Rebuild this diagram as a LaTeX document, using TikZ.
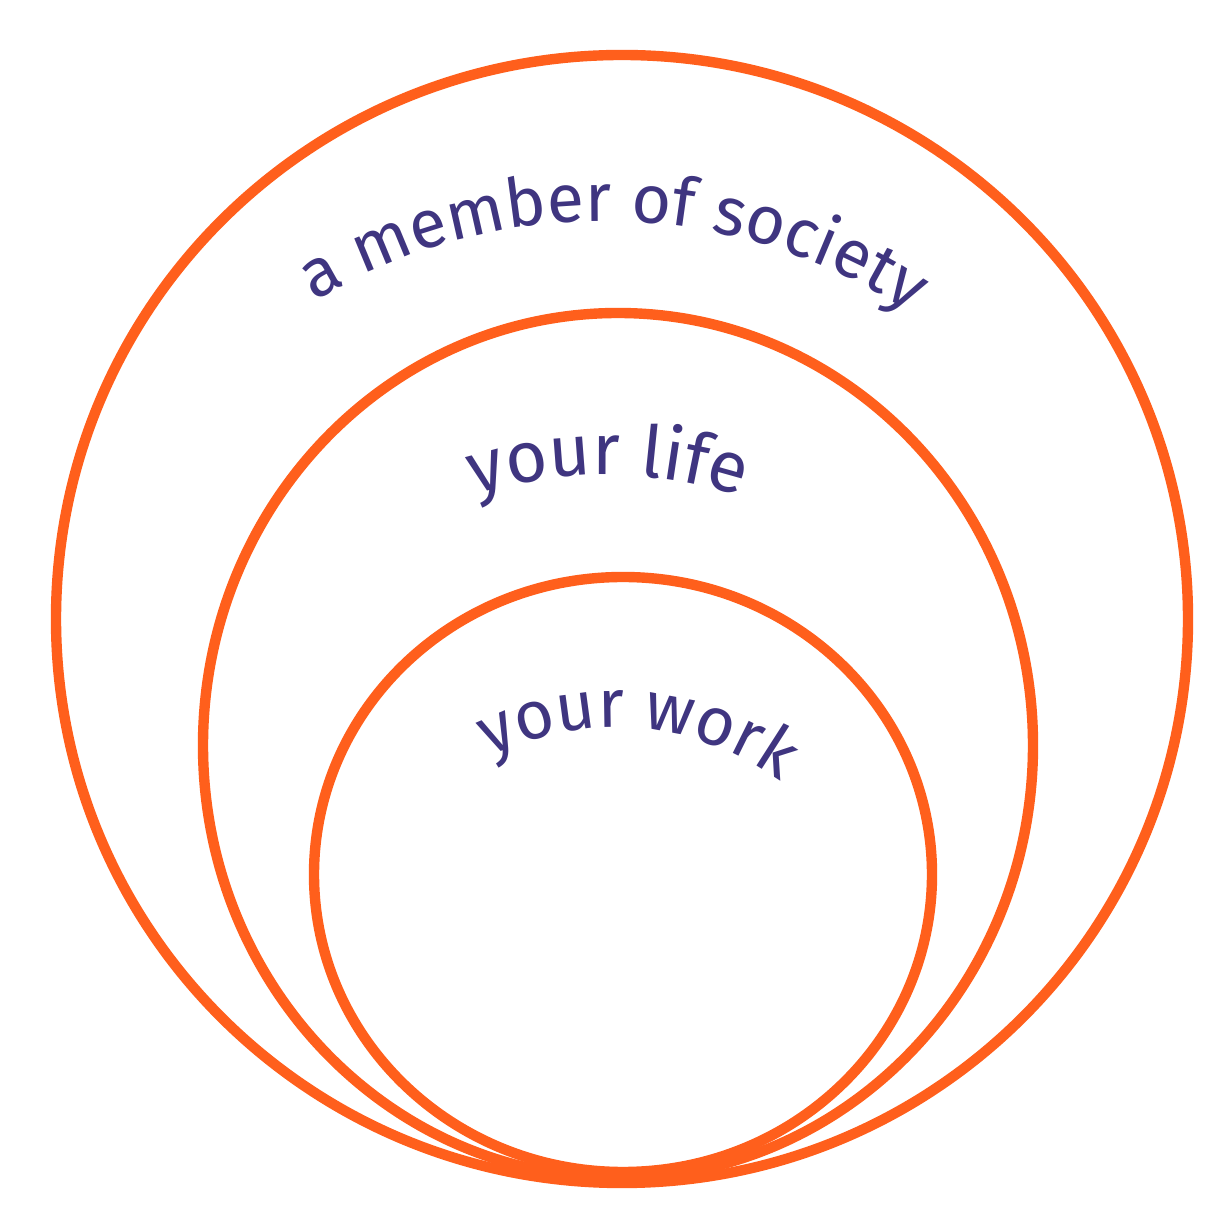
\documentclass[tikz,border=0pt]{standalone}
\usepackage{fontspec}
\setmainfont{Fira Sans}
\usetikzlibrary{decorations.text}
\definecolor{ring}{HTML}{FF5F1C}
\definecolor{ink}{HTML}{3F3580}
\tikzset{
  ringline/.style={draw=ring, line width=5.2pt},
  curvedtext/.style 2 args={decorate, decoration={text along path, text align=center,
     text color=ink, text={|\fontsize{#1}{40}\selectfont|#2}}}
}
\begin{document}
\begin{tikzpicture}[x=0.5pt,y=0.5pt]
\useasboundingbox (0,0) rectangle (1212,1215);
\fill[white] (0,0) rectangle (1212,1215);
% circles
\coordinate (outerc) at (622,596);
\coordinate (midc) at (618,469.5);
\coordinate (innerc) at (623,340.5);
\draw[ringline] (outerc) ellipse [x radius=566, y radius=564];
\draw[ringline] (midc) ellipse [x radius=415, y radius=432.5];
\draw[ringline] (innerc) ellipse [x radius=309, y radius=297.5];
% labels
\coordinate (socc) at (603,436);
\coordinate (lifec) at (605,303);
\coordinate (workc) at (615.5,208.6);
\path[curvedtext={34}{a member of society}] (socc) ++(122.3:558) arc[start angle=122.3, end angle=55.4, radius=558];
\path[curvedtext={36}{your life}] (lifec) ++(108.5:437) arc[start angle=108.5, end angle=70.6, radius=437];
\path[curvedtext={34}{your work}] (workc) ++(117.9:278.8) arc[start angle=117.9, end angle=52.6, radius=278.8];
\end{tikzpicture}
\end{document}
